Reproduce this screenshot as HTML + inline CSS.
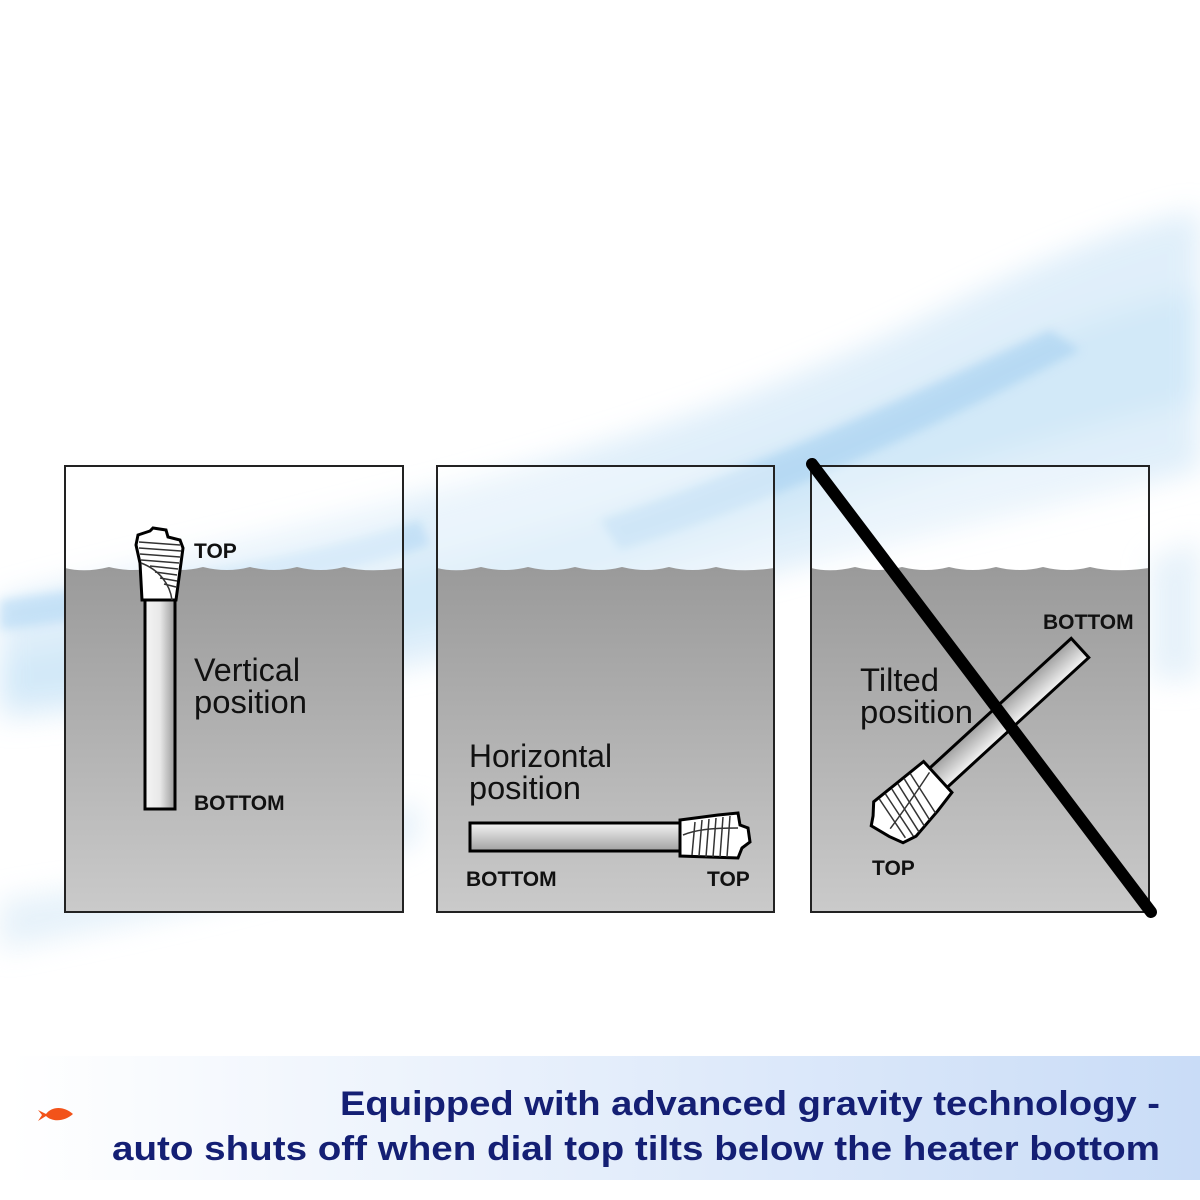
<!DOCTYPE html>
<html><head><meta charset="utf-8"><style>
html,body{margin:0;padding:0;background:#fff}
svg{display:block}
text{font-family:"Liberation Sans","DejaVu Sans",sans-serif}
</style></head><body>
<svg width="1200" height="1200" viewBox="0 0 1200 1200" xmlns="http://www.w3.org/2000/svg">
<defs>
<linearGradient id="gw" x1="0" y1="0" x2="0" y2="1">
<stop offset="0" stop-color="#9a9a9a"/><stop offset="1" stop-color="#cacaca"/></linearGradient>
<linearGradient id="band" x1="0" y1="0" x2="1" y2="0">
<stop offset="0" stop-color="#ffffff"/><stop offset="1" stop-color="#c9dcf7"/></linearGradient>
<linearGradient id="tube" x1="0" y1="0" x2="1" y2="0">
<stop offset="0" stop-color="#f4f4f4"/><stop offset="0.5" stop-color="#e8e8e8"/><stop offset="1" stop-color="#9a9a9a"/></linearGradient>
<linearGradient id="tubeh" x1="0" y1="0" x2="0" y2="1">
<stop offset="0" stop-color="#f4f4f4"/><stop offset="1" stop-color="#a0a0a0"/></linearGradient>
<filter id="bl"><feGaussianBlur stdDeviation="14"/></filter>
<filter id="bl2"><feGaussianBlur stdDeviation="5"/></filter>
</defs>
<g filter="url(#bl)" opacity="0.7">
<path d="M0,600 C300,520 600,470 900,330 C1000,280 1100,230 1200,210 L1200,470 C1000,520 800,560 600,620 C400,680 200,700 0,720 Z" fill="#d3e8f8"/>
<path d="M0,660 C300,600 650,520 950,380 C1050,330 1150,300 1200,290 L1200,400 C1000,450 800,520 600,580 C400,640 200,690 0,700 Z" fill="#bfe0f6"/>
<path d="M0,900 C150,880 300,850 420,800 L420,840 C300,890 150,920 0,950 Z" fill="#dcecf8"/>
<path d="M1150,560 L1200,540 L1200,680 L1150,680 Z" fill="#dcecf8"/>
</g>
<g filter="url(#bl2)" opacity="0.5">
<path d="M600,520 C750,470 900,400 1050,330 L1080,350 C930,430 780,500 620,550 Z" fill="#9ccbef"/>
<path d="M0,600 C150,580 300,560 420,520 L430,545 C300,590 150,610 0,630 Z" fill="#a9d3f3"/>
</g>
<rect x="10" y="1056" width="1190" height="124" fill="url(#band)"/>
<path d="M38,1110 L46,1114 C52,1106 64,1106 73,1114 C64,1122 52,1122 46,1116 L38,1121 L42,1115 Z" fill="#f2531a"/>
<text text-anchor="end" x="1160" y="1115" font-size="34" font-weight="bold" fill="#141f74" textLength="820" lengthAdjust="spacingAndGlyphs">Equipped with advanced gravity technology -</text>
<text text-anchor="end" x="1160" y="1160" font-size="34" font-weight="bold" fill="#141f74" textLength="1048" lengthAdjust="spacingAndGlyphs">auto shuts off when dial top tilts below the heater bottom</text>

<g>
<rect x="65" y="466" width="338" height="446" fill="#fff" fill-opacity="0.35"/>
<path d="M65,568 q20,5 44,-1 q24,6 47,0 q24,6 47,0 q24,6 47,0 q24,6 47,0 q24,6 47,0 q24,6 59,1 L403,912 L65,912 Z" fill="url(#gw)"/>
<rect x="65" y="466" width="338" height="446" fill="none" stroke="#222" stroke-width="2"/>
</g>
<g>
<rect x="437" y="466" width="337" height="446" fill="#fff" fill-opacity="0.35"/>
<path d="M437,568 q20,5 44,-1 q24,6 47,0 q24,6 47,0 q24,6 47,0 q24,6 47,0 q24,6 47,0 q24,6 58,1 L774,912 L437,912 Z" fill="url(#gw)"/>
<rect x="437" y="466" width="337" height="446" fill="none" stroke="#222" stroke-width="2"/>
</g>
<g>
<rect x="811" y="466" width="338" height="446" fill="#fff" fill-opacity="0.35"/>
<path d="M811,568 q20,5 44,-1 q24,6 47,0 q24,6 47,0 q24,6 47,0 q24,6 47,0 q24,6 47,0 q24,6 59,1 L1149,912 L811,912 Z" fill="url(#gw)"/>
<rect x="811" y="466" width="338" height="446" fill="none" stroke="#222" stroke-width="2"/>
</g>

<rect x="145" y="598" width="30" height="211" fill="url(#tube)" stroke="#000" stroke-width="3"/>
<path d="M142,600 L140,563 L136,545 L138,535 L150,531 L153,528 L166,530 L168,537 L180,540 L183,548 L176,600 Z" fill="#fff" stroke="#000" stroke-width="3"/>
<g stroke="#333" stroke-width="1.5" fill="none">
<path d="M139,542 L180,545"/><path d="M139,548 L181,551"/><path d="M140,554 L180,557"/><path d="M141,560 L179,563"/><path d="M150,566 L178,569"/><path d="M155,572 L177,575"/><path d="M160,578 L177,581"/><path d="M164,584 L176,587"/>
<path d="M141,563 C160,570 170,585 172,600"/>
</g>
<text x="194" y="558" font-size="21" font-weight="bold" fill="#111">TOP</text>
<text x="194" y="810" font-size="21" font-weight="bold" fill="#111">BOTTOM</text>
<text x="194" y="681" font-size="32" fill="#111" textLength="106" lengthAdjust="spacingAndGlyphs">Vertical</text>
<text x="194" y="713" font-size="32" fill="#111" textLength="113" lengthAdjust="spacingAndGlyphs">position</text>

<rect x="470" y="823" width="212" height="28" fill="url(#tubeh)" stroke="#000" stroke-width="3"/>
<path d="M680,820 L718,815 L738,813 L740,825 L748,828 L750,842 L742,848 L738,858 L680,856 Z" fill="#fff" stroke="#000" stroke-width="3"/>
<g stroke="#333" stroke-width="1.5" fill="none">
<path d="M692,855 L695,822"/><path d="M699,856 L702,820"/><path d="M706,857 L709,819"/><path d="M713,857 L716,818"/><path d="M720,857 L723,817"/><path d="M727,857 L730,816"/><path d="M683,835 C695,830 710,828 738,828"/>
</g>
<text x="469" y="767" font-size="32" fill="#111" textLength="143" lengthAdjust="spacingAndGlyphs">Horizontal</text>
<text x="469" y="799" font-size="32" fill="#111" textLength="112" lengthAdjust="spacingAndGlyphs">position</text>
<text x="466" y="886" font-size="21" font-weight="bold" fill="#111">BOTTOM</text>
<text x="707" y="886" font-size="21" font-weight="bold" fill="#111">TOP</text>

<g transform="translate(1080,648) rotate(137.5)">
<rect x="0" y="-13" width="195" height="26" fill="url(#tubeh)" stroke="#000" stroke-width="3"/>
<path d="M192,-20 L215,-24 L248,-28 L262,-24 L268,-10 L274,10 L266,16 L256,26 L192,22 Z" fill="#fff" stroke="#000" stroke-width="3"/>
<g stroke="#333" stroke-width="1.5" fill="none">
<path d="M210,22 L218,-24"/><path d="M218,22 L227,-25"/><path d="M226,23 L235,-26"/><path d="M234,23 L243,-27"/><path d="M242,24 L250,-26"/><path d="M250,24 L257,-22"/>
<path d="M195,10 C215,5 235,0 262,-5"/>
</g>
</g>
<text x="1043" y="629" font-size="21" font-weight="bold" fill="#111">BOTTOM</text>
<text x="872" y="875" font-size="21" font-weight="bold" fill="#111">TOP</text>
<text x="860" y="691" font-size="32" fill="#111" textLength="79" lengthAdjust="spacingAndGlyphs">Tilted</text>
<text x="860" y="723" font-size="32" fill="#111" textLength="113" lengthAdjust="spacingAndGlyphs">position</text>
<line x1="812" y1="464" x2="1151" y2="912" stroke="#000" stroke-width="12" stroke-linecap="round"/>
</svg>
</body></html>
